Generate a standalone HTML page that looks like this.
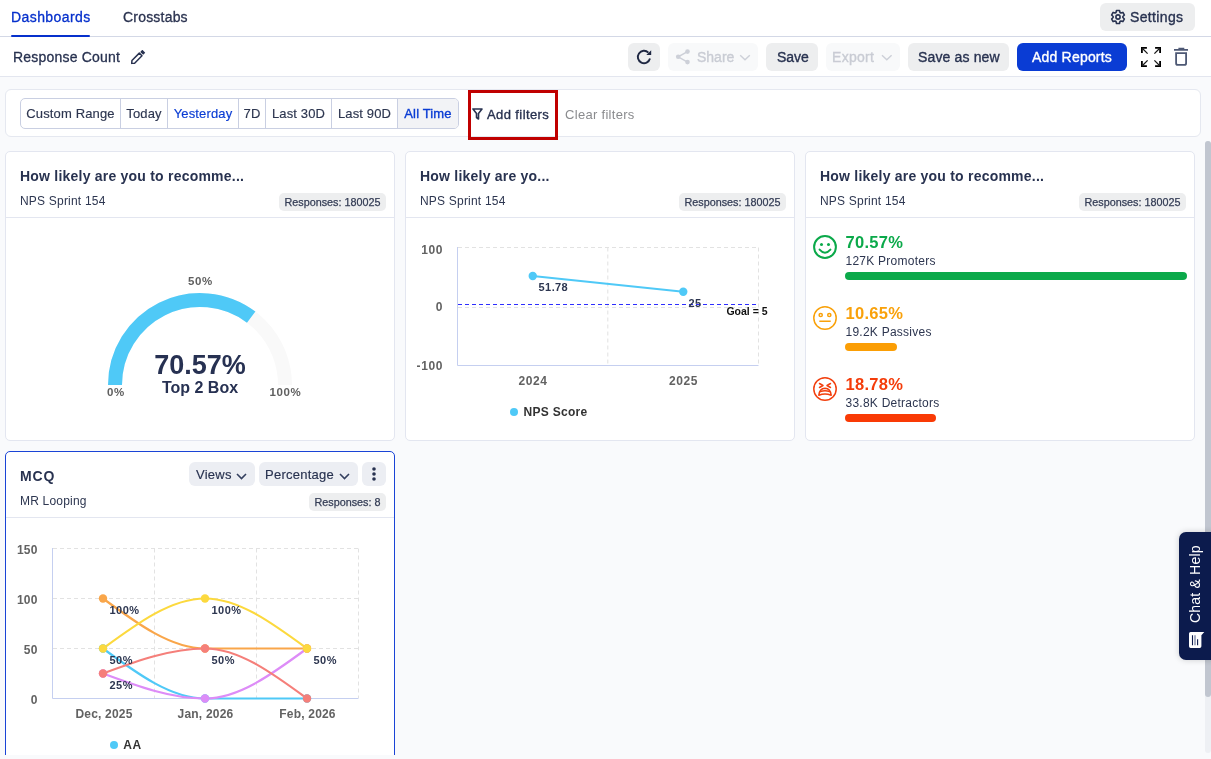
<!DOCTYPE html>
<html><head><meta charset="utf-8"><title>Dashboards</title>
<style>
*{box-sizing:border-box;margin:0;padding:0}
html,body{width:1211px;height:759px;overflow:hidden;background:#f9fafc;font-family:"Liberation Sans",Arial,sans-serif;color:#283250}
.abs{position:absolute}
.hdr{position:absolute;left:0;top:0;width:1211px;height:37px;background:#fff;border-bottom:1px solid #d3d8e6}
.tab{position:absolute;top:9px;font-size:14px;line-height:16px;white-space:nowrap;-webkit-text-stroke:.3px currentColor}
.bar{position:absolute;left:0;top:37px;width:1211px;height:40px;background:#fff;border-bottom:1px solid #e3e6ef}
.btn{position:absolute;top:6px;height:28px;border-radius:6px;background:#edeeef;font-size:14px;line-height:28px;white-space:nowrap;color:#283250;-webkit-text-stroke:.35px currentColor}
.btn.dis{background:#f8f9fa;color:#c9ccd4}
.fcard{position:absolute;left:5px;top:89px;width:1196px;height:48px;background:#fff;border:1px solid #e5e8f0;border-radius:6px}
.seg{position:absolute;left:14px;top:8px;height:31px;border:1px solid #c9cfe2;border-radius:5px;display:flex;overflow:hidden;background:#fff}
.seg div{height:29px;line-height:29px;font-size:13px;padding:0;text-align:center;letter-spacing:.15px;border-right:1px solid #c9cfe2;white-space:nowrap;color:#2d3650;-webkit-text-stroke:.15px currentColor}
.seg div:last-child{border-right:0}
.card{position:absolute;width:390px;height:290px;background:#fff;border:1px solid #e3e6f0;border-radius:5px;overflow:hidden}
.ch{position:absolute;left:0;top:0;width:388px;height:66px;border-bottom:1px solid #e3e6f0}
.ct{position:absolute;left:14px;top:16px;font-size:14px;font-weight:700;line-height:16px;white-space:nowrap;color:#283250;letter-spacing:.22px}
.cs{position:absolute;left:14px;top:42px;font-size:12px;line-height:14px;white-space:nowrap;color:#2d3650;letter-spacing:.2px}
.pill{position:absolute;top:10px;height:24px;border-radius:6px;background:#eceef3;font-size:13px;line-height:26px;white-space:nowrap;color:#283250;-webkit-text-stroke:.15px currentColor;letter-spacing:.25px}
.badge{position:absolute;right:8px;top:41px;height:18px;border-radius:5px;background:#edeeef;font-size:10.8px;font-weight:400;line-height:18px;padding:0 5.5px 0 5px;white-space:nowrap;color:#333c55;-webkit-text-stroke:.25px currentColor}
</style></head><body>

<!-- top tabs -->
<div class="hdr">
  <div class="tab" style="left:11px;color:#0630cc;letter-spacing:.42px">Dashboards</div>
  <div class="abs" style="left:11px;top:35px;width:79px;height:2px;background:#0630cc;border-radius:1px"></div>
  <div class="tab" style="left:123px;color:#2b3350;letter-spacing:.2px">Crosstabs</div>
  <div class="btn" style="left:1100px;top:3px;width:95px;padding-left:30px;letter-spacing:.35px">
    Settings</div>
</div>

<!-- second bar -->
<div class="bar">
  <div class="abs" style="left:13px;top:12px;font-size:14px;line-height:16px;white-space:nowrap;letter-spacing:.2px;color:#283250;-webkit-text-stroke:.3px currentColor">Response Count</div>
  <div class="btn" style="left:628px;width:32px;">
    </div>
  <div class="btn dis" style="left:668px;width:90px;padding-left:29px">
    Share</div>
  <div class="btn" style="left:766px;width:52px;padding-left:11px">Save</div>
  <div class="btn dis" style="left:826px;width:74px;padding-left:6px;letter-spacing:.3px">Export</div>
  <div class="btn" style="left:908px;width:101px;padding-left:10px;letter-spacing:.15px">Save as new</div>
  <div class="btn" style="left:1017px;width:110px;padding-left:15px;background:#0a3cd4;color:#fff;letter-spacing:.2px">Add Reports</div>
  
</div>

<svg class="abs" style="left:0;top:0" width="1211" height="80" viewBox="0 0 1211 80" fill="none">
  <path d="M1116.01,12.52 L1116.49,10.47 L1119.51,10.47 L1119.99,12.52 L1120.88,13.04 L1122.90,12.43 L1124.41,15.04 L1122.87,16.49 L1122.87,17.51 L1124.41,18.96 L1122.90,21.57 L1120.88,20.96 L1119.99,21.48 L1119.51,23.53 L1116.49,23.53 L1116.01,21.48 L1115.12,20.96 L1113.10,21.57 L1111.59,18.96 L1113.13,17.51 L1113.13,16.49 L1111.59,15.04 L1113.10,12.43 L1115.12,13.04Z" stroke="#283250" stroke-width="1.6" stroke-linejoin="round"/>
  <circle cx="1118" cy="17" r="2.1" stroke="#283250" stroke-width="1.6"/>
  <g transform="translate(131.3,63.8) rotate(-45)" stroke="#283250">
    <path d="M0.6,0L2.8,-1.9H13.2V1.9H2.8Z" stroke-width="1.5" stroke-linejoin="round"/>
    <rect x="14.7" y="-2.1" width="3" height="4.2" rx=".4" fill="#283250" stroke="none"/>
  </g>
  <path d="M648.4,52.6A6.2,6.2 0 1 0 650,58.6" stroke="#1e2742" stroke-width="1.9"/>
  <path d="M651.2,50.2V55.1H646.3Z" fill="#1e2742"/>
  <g stroke="#cdd0d8" stroke-width="1.5"><path d="M687.5,51.6L678.2,56.8L687.5,62.1"/></g>
  <g fill="#cdd0d8"><circle cx="687.5" cy="51.6" r="2.3"/><circle cx="678.2" cy="56.8" r="2.3"/><circle cx="687.5" cy="62.1" r="2.3"/></g>
  <g stroke="#cdd0d8" stroke-width="1.4"><path d="M740.2,55.2L745,59.8L749.8,55.2M882,55.2L886.8,59.8L891.6,55.2"/></g>

    <g stroke="#000" stroke-width="1.8"><path d="M1141.9,52.9V47.9H1146.9M1160.1,52.9V47.9H1155.1M1141.9,61.1V66.1H1146.9M1160.1,61.1V66.1H1155.1"/></g>
    <g stroke="#1a1a1a" stroke-width="1.3"><path d="M1142,48L1147.6,53.6M1160,48L1154.4,53.6M1142,66L1147.6,60.4M1160,66L1154.4,60.4"/></g>
    <g stroke="#4d5874" stroke-width="1.8"><path d="M1174,49.8H1188M1178.4,48.6H1184.3"/><path d="M1176.1,53.1H1186.1V63.2Q1186.1,64.9 1184.4,64.9H1177.8Q1176.1,64.9 1176.1,63.2Z"/></g>
  
</svg>

<!-- filter card -->
<div class="fcard">
  <div class="seg">
    <div style="width:100px">Custom Range</div><div style="width:47px">Today</div><div style="width:71px;color:#0a3cd4">Yesterday</div><div style="width:27px">7D</div><div style="width:66px">Last 30D</div><div style="width:66px">Last 90D</div><div style="width:60px;background:#f2f3f6;color:#0a3cd4;-webkit-text-stroke:.35px currentColor">All Time</div>
  </div>
  <div class="abs" style="left:462px;top:0px;width:90px;height:50px;border:3px solid #c00000"></div>
  <svg class="abs" style="left:466px;top:18px" width="11" height="12" viewBox="0 0 11 12" fill="none" stroke="#283250" stroke-width="1.6" stroke-linejoin="round"><path d="M1 1h9L6.5 5.5V11L4.5 9.5v-4z"/></svg>
  <div class="abs" style="left:481px;top:17px;font-size:13px;line-height:15px;white-space:nowrap;letter-spacing:.4px;color:#283250;-webkit-text-stroke:.35px currentColor">Add filters</div>
  <div class="abs" style="left:559px;top:17px;font-size:13px;line-height:15px;white-space:nowrap;letter-spacing:.3px;color:#8a8b8e">Clear filters</div>
</div>

<!-- scroll region -->
<div class="abs" style="left:0;top:141px;width:1211px;height:614px;overflow:hidden">
  <!-- card 1 -->
  <div class="card" style="left:5px;top:10px">
    <div class="ch"><div class="ct">How likely are you to recomme...</div><div class="cs">NPS Sprint 154</div><div class="badge">Responses: 180025</div></div>
    <svg class="abs" style="left:-1px;top:-1px" width="390" height="290" viewBox="5 151 390 290">
      <path d="M115,385A85,85 0 0 1 285,385" fill="none" stroke="#f9f9f9" stroke-width="14"/>
      <path d="M115,385A85,85 0 0 1 251.19,317.14" fill="none" stroke="#4fc9f7" stroke-width="14"/>
      <g font-family="Liberation Sans" font-weight="700" fill="#606060" font-size="11.5" letter-spacing=".6">
        <text x="200.5" y="285" text-anchor="middle">50%</text>
        <text x="116" y="396" text-anchor="middle">0%</text>
        <text x="285.5" y="396" text-anchor="middle">100%</text>
      </g>
      <text x="200" y="374" text-anchor="middle" font-family="Liberation Sans" font-weight="700" font-size="27" fill="#273152">70.57%</text>
      <text x="200" y="393" text-anchor="middle" font-family="Liberation Sans" font-weight="700" font-size="16" fill="#273152">Top 2 Box</text>
    </svg>
  </div>
  <!-- card 2 -->
  <div class="card" style="left:405px;top:10px">
    <div class="ch"><div class="ct">How likely are yo...</div><div class="cs">NPS Sprint 154</div><div class="badge">Responses: 180025</div></div>
    <svg class="abs" style="left:-1px;top:-1px" width="390" height="290" viewBox="405 151 390 290">
      <g stroke="#e2e2e2" stroke-dasharray="4 3" fill="none">
        <path d="M458,247.5H758.5M458,307.5H758.5M607.8,247.5V365.2M758.5,247.5V365.2"/>
      </g>
      <path d="M457.5,247V365.5H758.5" fill="none" stroke="#c5cff0"/>
      <path d="M458,304.5H758.5" fill="none" stroke="#2d2dff" stroke-width="1" stroke-dasharray="4 3"/>
      <path d="M532.75,276L683.25,291.8" stroke="#4fc9f7" stroke-width="2" fill="none"/>
      <circle cx="532.75" cy="276" r="4.2" fill="#4fc9f7"/>
      <circle cx="683.25" cy="291.8" r="4.2" fill="#4fc9f7"/>
      <g font-family="Liberation Sans" font-weight="700" fill="#626262" font-size="12" letter-spacing=".6" text-anchor="end">
        <text x="443" y="253.5">100</text>
        <text x="443" y="311">0</text>
        <text x="443" y="370">-100</text>
      </g>
      <g font-family="Liberation Sans" font-weight="700" fill="#626262" font-size="12" letter-spacing=".6" text-anchor="middle">
        <text x="533" y="385.2">2024</text>
        <text x="683.5" y="385.2">2025</text>
      </g>
      <g font-family="Liberation Sans" font-weight="700" fill="#2d3650" font-size="11" letter-spacing=".4">
        <text x="538.6" y="291.3">51.78</text>
        <text x="688.5" y="307">25</text>
      </g>
      <text x="726.4" y="315" font-family="Liberation Sans" font-weight="700" font-size="10.5" fill="#111">Goal = 5</text>
      <circle cx="514" cy="412" r="4" fill="#4fc9f7"/>
      <text x="523.5" y="416" font-family="Liberation Sans" font-weight="700" font-size="12" fill="#333" letter-spacing=".3">NPS Score</text>
    </svg>
  </div>
  <!-- card 3 -->
  <div class="card" style="left:805px;top:10px">
    <div class="ch"><div class="ct">How likely are you to recomme...</div><div class="cs">NPS Sprint 154</div><div class="badge">Responses: 180025</div></div>
    <svg class="abs" style="left:-1px;top:-1px" width="390" height="290" viewBox="805 151 390 290">
      <g fill="none" stroke="#0ba94a" stroke-width="2" stroke-linecap="round">
        <circle cx="825" cy="247" r="10.9"/>
        <path d="M819.6,249.6Q825,255.8 830.4,249.6"/>
      </g>
      <circle cx="821.5" cy="244.5" r="1.5" fill="#0ba94a"/><circle cx="828.5" cy="244.5" r="1.5" fill="#0ba94a"/>
      <g fill="none" stroke="#f9a10a" stroke-width="1.5">
        <circle cx="825" cy="318" r="11.2"/>
        <circle cx="820.7" cy="315" r="1.6"/><circle cx="829.3" cy="315" r="1.6"/>
        <path d="M819.3,321.2H830.7"/>
      </g>
      <g fill="none" stroke="#f2400f" stroke-width="1.5" stroke-linejoin="round" stroke-linecap="round">
        <circle cx="825" cy="389" r="11.2"/>
        <path d="M819.5,383.5L823,385.5L819.5,387.5M830.5,383.5L827,385.5L830.5,387.5"/>
        <path d="M818.8,395.3Q819.5,388.5 825,388.3Q830.5,388.5 831.2,395.3Q825,392.5 818.8,395.3Z"/>
        <path d="M820.3,391.6Q825,390 829.7,391.6"/>
      </g>
      <g font-family="Liberation Sans" font-weight="700" font-size="16.5" letter-spacing=".3">
        <text x="845.5" y="248.4" fill="#0ba94a">70.57%</text>
        <text x="845.5" y="319.4" fill="#f9a10a">10.65%</text>
        <text x="845.5" y="390.1" fill="#f43c0a">18.78%</text>
      </g>
      <g font-family="Liberation Sans" font-size="12" fill="#2d3650" letter-spacing=".25">
        <text x="845.5" y="264.6">127K Promoters</text>
        <text x="845.5" y="335.9">19.2K Passives</text>
        <text x="845.5" y="406.6">33.8K Detractors</text>
      </g>
      <rect x="845" y="272" width="342" height="8" rx="4" fill="#0ba94a"/>
      <rect x="845" y="343" width="52" height="8" rx="4" fill="#fb9e05"/>
      <rect x="845" y="414" width="91" height="8" rx="4" fill="#f93a05"/>
    </svg>
  </div>
  <!-- card 4 MCQ -->
  <div class="card" style="left:5px;top:310px;height:330px;border-color:#1a44d6">
    <div class="ch"><div class="ct" style="letter-spacing:.9px">MCQ</div><div class="cs">MR Looping</div><div class="badge">Responses: 8</div>
      <div class="pill" style="left:183px;width:66px;padding-left:7px">Views<svg class="abs" style="left:47px;top:10.5px" width="11" height="7" viewBox="0 0 11 7" fill="none" stroke="#34405f" stroke-width="1.6"><path d="M1 1l4.5 4.5L10 1"/></svg></div>
      <div class="pill" style="left:253px;width:99px;padding-left:6px">Percentage<svg class="abs" style="left:80px;top:10.5px" width="11" height="7" viewBox="0 0 11 7" fill="none" stroke="#34405f" stroke-width="1.6"><path d="M1 1l4.5 4.5L10 1"/></svg></div>
      <div class="pill" style="left:356px;width:24px"><svg class="abs" style="left:10px;top:5px" width="4" height="14" viewBox="0 0 4 14" fill="#283250"><circle cx="2" cy="2" r="1.8"/><circle cx="2" cy="7" r="1.8"/><circle cx="2" cy="12" r="1.8"/></svg></div>
    </div>
    <svg class="abs" style="left:-1px;top:-1px" width="390" height="330" viewBox="5 451 390 330">
      <g stroke="#e2e2e2" stroke-dasharray="4 3" fill="none">
        <path d="M53,548.5H358.5M53,598.5H358.5M53,648.5H358.5M154.5,548.5V698M256.5,548.5V698M358.5,548.5V698"/>
      </g>
      <path d="M52.5,548V698.5H358.5" fill="none" stroke="#c5cff0"/>
      <g fill="none" stroke-width="2.2" transform="translate(0,0.5)">
        <path stroke="#4fc9f7" d="M103.00,648.00C137.00,673.00,171.00,698.00,205.00,698.00C239.00,698.00,273.00,698.00,307.00,698.00"/>
        <path stroke="#dd8cf7" d="M103.00,673.00C137.00,685.50,171.00,698.00,205.00,698.00C239.00,698.00,273.00,673.00,307.00,648.00"/>
        <path stroke="#f9a64a" d="M103.00,598.00C137.00,623.00,171.00,648.00,205.00,648.00C239.00,648.00,273.00,648.00,307.00,648.00"/>
        <path stroke="#fcd93e" d="M103.00,648.00C137.00,623.00,171.00,598.00,205.00,598.00C239.00,598.00,273.00,623.00,307.00,648.00"/>
        <path stroke="#f57f7a" d="M103.00,673.00C137.00,660.50,171.00,648.00,205.00,648.00C239.00,648.00,273.00,673.00,307.00,698.00"/>
      </g>
      <g transform="translate(0,0.5)">
        <circle cx="103" cy="648" r="4.2" fill="#4fc9f7"/><circle cx="205" cy="698" r="4.2" fill="#4fc9f7"/><circle cx="307" cy="698" r="4.2" fill="#4fc9f7"/>
        <circle cx="103" cy="673" r="4.2" fill="#dd8cf7"/><circle cx="205" cy="698" r="4.2" fill="#dd8cf7"/><circle cx="307" cy="648" r="4.2" fill="#dd8cf7"/>
        <circle cx="103" cy="598" r="4.2" fill="#f9a64a"/><circle cx="205" cy="648" r="4.2" fill="#f9a64a"/><circle cx="307" cy="648" r="4.2" fill="#f9a64a"/>
        <circle cx="103" cy="648" r="4.2" fill="#fcd93e"/><circle cx="205" cy="598" r="4.2" fill="#fcd93e"/><circle cx="307" cy="648" r="4.2" fill="#fcd93e"/>
        <circle cx="103" cy="673" r="4.2" fill="#f57f7a"/><circle cx="205" cy="648" r="4.2" fill="#f57f7a"/><circle cx="307" cy="698" r="4.2" fill="#f57f7a"/>
      </g>
      <g font-family="Liberation Sans" font-weight="700" fill="#2d3650" font-size="11" letter-spacing=".4">
        <text x="109.6" y="614">100%</text><text x="211.6" y="614">100%</text>
        <text x="109.6" y="664">50%</text><text x="211.6" y="664">50%</text><text x="313.6" y="664">50%</text>
        <text x="109.6" y="689">25%</text>
      </g>
      <g font-family="Liberation Sans" font-weight="700" fill="#626262" font-size="12" letter-spacing=".3" text-anchor="end">
        <text x="37.8" y="554">150</text><text x="37.8" y="604">100</text><text x="37.8" y="654">50</text><text x="37.8" y="704">0</text>
      </g>
      <g font-family="Liberation Sans" font-weight="700" fill="#626262" font-size="12" letter-spacing=".2" text-anchor="middle">
        <text x="104" y="718">Dec, 2025</text><text x="205.5" y="718">Jan, 2026</text><text x="307.5" y="718">Feb, 2026</text>
      </g>
      <circle cx="114" cy="745" r="4" fill="#4fc9f7"/>
      <text x="123.3" y="749" font-family="Liberation Sans" font-weight="700" font-size="12" fill="#333" letter-spacing=".5">AA</text>
    </svg>
  </div>
  <!-- scrollbar -->
  <div class="abs" style="left:1205px;top:0;width:6px;height:612px;background:#eef0f4;border-radius:3px"></div>
  <div class="abs" style="left:1205px;top:0;width:6px;height:556px;background:#c1c6d0;border-radius:3px"></div>
</div>

<!-- chat widget -->
<div class="abs" style="left:1179px;top:532px;width:40px;height:128px;background:#0c1b4d;border-radius:7px;box-shadow:0 0 6px rgba(0,0,0,.18)">
  <div class="abs" style="left:8px;top:91px;width:78px;height:16px;transform-origin:0 0;transform:rotate(-90deg);color:#fff;font-size:14px;line-height:16px;white-space:nowrap;letter-spacing:.2px">Chat &amp; Help</div>
  <svg class="abs" style="left:9px;top:99px" width="17" height="18" viewBox="0 0 17 18"><path d="M1,2.6Q1,1 2.6,1H16.3L13.4,4.3V15.2Q13.4,16.9 11.7,16.9H2.7Q1,16.9 1,15.2Z" fill="#fff"/><path d="M4.5,4.3V14.2M9.6,8.3V14.2" stroke="#0c1b4d" stroke-width="1.1"/><path d="M7,4.3V14.2" stroke="#7f88a5" stroke-width="1.4"/></svg>
</div>

</body></html>
